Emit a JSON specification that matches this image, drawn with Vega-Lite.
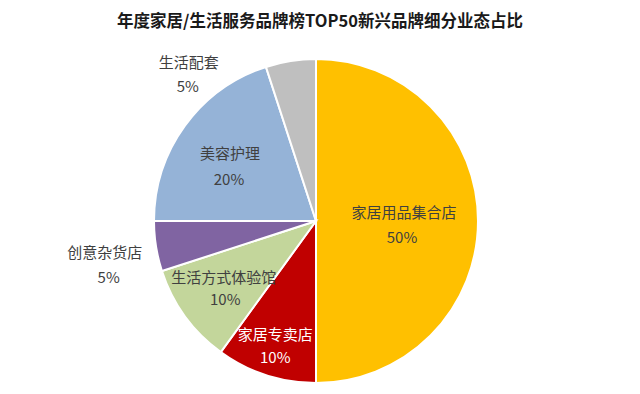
{
  "$schema": "https://vega.github.io/schema/vega-lite/v6.json",
  "width": 632,
  "height": 368,
  "autosize": {"type": "none"},
  "padding": {"left": 0, "right": 8, "top": 37, "bottom": 0},
  "background": "white",
  "title": {"text": "年度家居/生活服务品牌榜TOP50新兴品牌细分业态占比", "frame": "group", "font": "Noto Sans CJK SC", "fontSize": 16.5, "fontWeight": "bold", "color": "#1a1a1a", "anchor": "middle", "offset": -29, "dx": 4},
  "data": {"values": [
    {"cat": "家居用品集合店", "share": 0.5, "rank": 1},
    {"cat": "家居专卖店", "share": 0.1, "rank": 2},
    {"cat": "生活方式体验馆", "share": 0.1, "rank": 3},
    {"cat": "创意杂货店", "share": 0.05, "rank": 4},
    {"cat": "美容护理", "share": 0.2, "rank": 5},
    {"cat": "生活配套", "share": 0.05, "rank": 6}
  ]},
  "encoding": {
    "theta": {"field": "share", "type": "quantitative", "stack": true},
    "order": {"field": "rank", "type": "quantitative"}
  },
  "layer": [
    {"mark": {"type": "arc", "outerRadius": 162, "stroke": "white", "strokeWidth": 2},
     "encoding": {"color": {"field": "cat", "type": "nominal", "legend": null,
       "scale": {"domain": ["家居用品集合店", "家居专卖店", "生活方式体验馆", "创意杂货店", "美容护理", "生活配套"],
                 "range": ["#FFC000", "#C00000", "#C3D69B", "#8064A2", "#95B3D7", "#BFBFBF"]}}}},
    {"mark": {"type": "text", "radius": 88, "dx": 0, "dy": -8, "font": "Noto Sans CJK SC", "fontSize": 15, "fill": "#404040"},
     "encoding": {"text": {"condition": {"test": "datum.cat === '家居用品集合店'", "field": "cat", "type": "nominal"}, "value": ""}}},
    {"mark": {"type": "text", "radius": 88, "dx": -2, "dy": 17, "font": "Noto Sans CJK SC", "fontSize": 15, "fill": "#404040"},
     "encoding": {"text": {"condition": {"test": "datum.cat === '家居用品集合店'", "field": "share", "type": "quantitative", "format": ".0%"}, "value": ""}}},
    {"mark": {"type": "text", "radius": 132, "dx": 0, "dy": -11.5, "font": "Noto Sans CJK SC", "fontSize": 15, "fill": "#FFFFFF"},
     "encoding": {"text": {"condition": {"test": "datum.cat === '家居专卖店'", "field": "cat", "type": "nominal"}, "value": ""}}},
    {"mark": {"type": "text", "radius": 132, "dx": 0, "dy": 11.5, "font": "Noto Sans CJK SC", "fontSize": 15, "fill": "#FFFFFF"},
     "encoding": {"text": {"condition": {"test": "datum.cat === '家居专卖店'", "field": "share", "type": "quantitative", "format": ".0%"}, "value": ""}}},
    {"mark": {"type": "text", "radius": 114, "dx": 0, "dy": -10, "font": "Noto Sans CJK SC", "fontSize": 15, "fill": "#404040"},
     "encoding": {"text": {"condition": {"test": "datum.cat === '生活方式体验馆'", "field": "cat", "type": "nominal"}, "value": ""}}},
    {"mark": {"type": "text", "radius": 114, "dx": 1.5, "dy": 12, "font": "Noto Sans CJK SC", "fontSize": 15, "fill": "#404040"},
     "encoding": {"text": {"condition": {"test": "datum.cat === '生活方式体验馆'", "field": "share", "type": "quantitative", "format": ".0%"}, "value": ""}}},
    {"mark": {"type": "text", "radius": 214, "dx": 0, "dy": -1.5, "font": "Noto Sans CJK SC", "fontSize": 15, "fill": "#404040"},
     "encoding": {"text": {"condition": {"test": "datum.cat === '创意杂货店'", "field": "cat", "type": "nominal"}, "value": ""}}},
    {"mark": {"type": "text", "radius": 214, "dx": 4, "dy": 23.5, "font": "Noto Sans CJK SC", "fontSize": 15, "fill": "#404040"},
     "encoding": {"text": {"condition": {"test": "datum.cat === '创意杂货店'", "field": "share", "type": "quantitative", "format": ".0%"}, "value": ""}}},
    {"mark": {"type": "text", "radius": 102, "dx": -3.5, "dy": -7, "font": "Noto Sans CJK SC", "fontSize": 15, "fill": "#404040"},
     "encoding": {"text": {"condition": {"test": "datum.cat === '美容护理'", "field": "cat", "type": "nominal"}, "value": ""}}},
    {"mark": {"type": "text", "radius": 102, "dx": -4.5, "dy": 19, "font": "Noto Sans CJK SC", "fontSize": 15, "fill": "#404040"},
     "encoding": {"text": {"condition": {"test": "datum.cat === '美容护理'", "field": "share", "type": "quantitative", "format": ".0%"}, "value": ""}}},
    {"mark": {"type": "text", "radius": 148, "dx": -104, "dy": -12, "font": "Noto Sans CJK SC", "fontSize": 15, "fill": "#404040"},
     "encoding": {"text": {"condition": {"test": "datum.cat === '生活配套'", "field": "cat", "type": "nominal"}, "value": ""}}},
    {"mark": {"type": "text", "radius": 148, "dx": -105, "dy": 12, "font": "Noto Sans CJK SC", "fontSize": 15, "fill": "#404040"},
     "encoding": {"text": {"condition": {"test": "datum.cat === '生活配套'", "field": "share", "type": "quantitative", "format": ".0%"}, "value": ""}}}
  ],
  "config": {"view": {"stroke": null}}
}
